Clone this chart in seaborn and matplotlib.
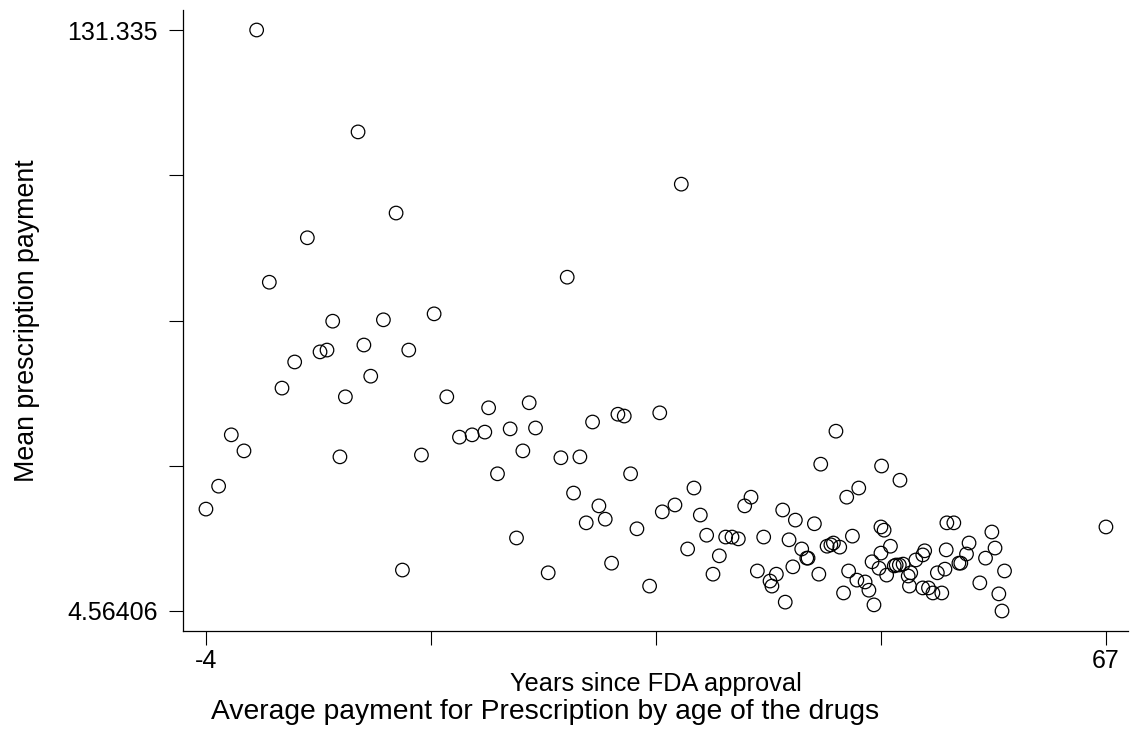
import matplotlib
matplotlib.use("Agg")
import matplotlib.pyplot as plt
import seaborn as sns
import pandas as pd

# years since FDA approval, mean prescription payment
years = [-4, -3, -2, -1, 0, 1, 2, 3, 4, 5, 5.55, 6, 6.57, 7, 8, 8.46, 9, 10, 11, 11.5,
         12, 13, 14, 15, 16, 17, 18, 18.3, 19, 20, 20.5, 21, 21.5, 22, 23, 24, 24.5, 25,
         25.5, 26, 26.5, 27, 27.5, 28, 28.5, 29, 29.5, 30, 31, 31.8, 32, 33, 33.5, 34,
         34.5, 35, 35.5, 36, 36.5, 37, 37.5, 38, 38.5, 39, 39.5, 40, 40.5, 40.65, 41,
         41.5, 41.7, 42, 42.3, 42.5, 43, 43.4, 43.5, 44, 44.35, 44.5, 45, 45.3, 45.5,
         45.7, 46, 46.3, 46.55, 46.7, 47, 47.35, 47.5, 48, 48.3, 48.55, 48.7, 49.1,
         49.25, 49.25, 49.3, 49.5, 49.7, 50, 50.3, 50.45, 50.7, 50.75, 51, 51.4, 51.6,
         51.5, 52, 52.55, 52.7, 52.55, 53, 53.35, 54.05, 53.7, 54.3, 54.4, 54.45, 55,
         55.4, 55.55, 56, 56.2, 57.05, 57.5, 58, 58.25, 58.55, 58.8, 59, 67]
payment = [26.8, 31.8, 43.0, 39.5, 131.335, 76.3, 53.2, 58.9, 86.0, 61.1, 61.5, 67.8,
           38.2, 51.3, 109.1, 62.6, 55.8, 68.1, 91.4, 13.5, 61.5, 38.6, 69.4, 51.3, 42.5,
           43.0, 43.6, 48.9, 34.5, 44.3, 20.5, 39.5, 50.0, 44.5, 12.9, 38.0, 77.4, 30.3,
           38.2, 23.8, 45.8, 27.5, 24.6, 15.0, 47.5, 47.1, 34.5, 22.5, 10.0, 47.8, 26.2,
           27.7, 97.7, 18.1, 31.4, 25.5, 21.1, 12.6, 16.6, 20.7, 20.7, 20.3, 27.5, 29.4,
           13.3, 20.7, 11.1, 10.0, 12.6, 26.6, 6.5, 20.1, 14.2, 24.4, 18.1, 16.1, 16.1,
           23.6, 12.6, 36.6, 18.7, 19.0, 19.4, 43.8, 18.5, 8.5, 29.4, 13.3, 20.9, 11.3,
           31.4, 10.9, 9.1, 15.3, 5.9, 13.9, 22.9, 17.2, 36.2, 22.2, 12.4, 18.7, 14.4,
           14.6, 14.6, 33.1, 14.8, 12.2, 12.9, 10.0, 15.7, 16.8, 17.7, 9.6, 9.6, 8.5, 8.5,
           12.9, 13.7, 17.9, 23.8, 23.8, 15.0, 15.0, 17.0, 19.4, 10.7, 16.1, 21.8, 18.3,
           8.3, 4.56406, 13.3, 22.9]

x_ticks = [-4, 13.75, 31.5, 49.25, 67]
x_labels = ["-4", "", "", "", "67"]
y_ticks = [4.56406, 36.2568, 67.9495, 99.6423, 131.335]
y_labels = ["4.56406", "", "", "", "131.335"]

df = pd.DataFrame({"years": years, "payment": payment})

sns.set_style("white")
plt.rcParams["font.family"] = ["Liberation Sans", "DejaVu Sans"]
plt.rcParams.update({"text.color": "black", "axes.labelcolor": "black",
                     "xtick.color": "black", "ytick.color": "black"})

fig = plt.figure(figsize=(11.31, 7.40), dpi=100)
ax = fig.add_axes([183 / 1131, 1 - 631 / 740, (1128 - 183) / 1131, (631 - 10) / 740])

sns.scatterplot(data=df, x="years", y="payment", ax=ax, marker="o", s=95,
                facecolors="none", edgecolors="black", linewidth=0.9)

ax.set_xlim(-5.81, 68.74)
ax.set_ylim(0.2, 135.7)
ax.set_xticks(x_ticks)
ax.set_xticklabels(x_labels, fontsize=18)
ax.set_yticks(y_ticks)
ax.set_yticklabels(y_labels, fontsize=18)
ax.tick_params(axis="x", direction="out", length=10, width=0.8, color="black", pad=3, bottom=True)
ax.tick_params(axis="y", direction="out", length=10, width=0.8, color="black", pad=8, left=True)

for side in ["top", "right"]:
    ax.spines[side].set_visible(False)
for side in ["left", "bottom"]:
    ax.spines[side].set_color("black")
    ax.spines[side].set_linewidth(0.9)

ax.set_xlabel("Years since FDA approval", fontsize=18.3, va="top")
ax.xaxis.set_label_coords(0.5, (631 - 672) / 621)
ax.set_ylabel("Mean prescription payment", fontsize=19.3)
ax.yaxis.set_label_coords((40 - 183) / 945, 0.5)

fig.text(545 / 1131, 1 - 712 / 740, "Average payment for Prescription by age of the drugs",
         ha="center", va="center", fontsize=20.3)

fig.savefig("out.png", dpi=100)
plt.close(fig)
